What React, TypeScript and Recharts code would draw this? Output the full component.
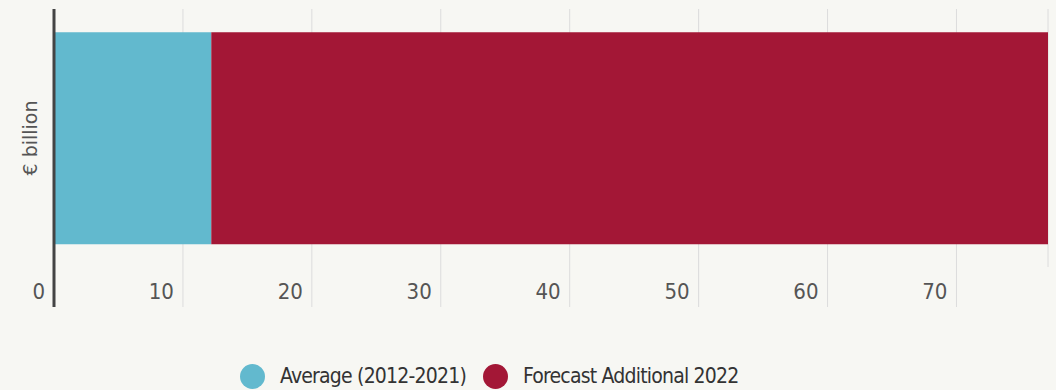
import React from "react"
import { Bar, BarChart, CartesianGrid, XAxis, YAxis } from "recharts"

// one stacked row, € billion
const categories = ["Gas"]
const seriesNames = ["Average (2012-2021)", "Forecast Additional 2022"]
const averageValues = [12.2]
const forecastValues = [64.9]
const xTicks = [0, 10, 20, 30, 40, 50, 60, 70]
const colors = ["#62b9ce", "#a31736"]

const BG = "#f7f7f3"
const CHART_W = 1056
const CHART_H = 320
const MARGIN_TOP = 9
const AXIS_H = 53
const PLOT_H = CHART_H - MARGIN_TOP - AXIS_H

const data = categories.map((name, i) => ({
  name,
  average: averageValues[i],
  forecast: forecastValues[i],
}))

const narrow = "'DejaVu Sans Condensed', 'Liberation Sans Narrow', sans-serif"

function XTick(props: any) {
  const { x, y, payload } = props
  const isZero = payload.value === 0
  return (
    <g>
      {isZero ? (
        <line x1={x} x2={x} y1={y - PLOT_H} y2={y + 40} stroke="#444" strokeWidth={3} />
      ) : (
        <line x1={x} x2={x} y1={y} y2={y + 40} stroke="#dcdcdc" strokeWidth={1} />
      )}
      <text x={x - 9} y={y + 32} textAnchor="end" fill="#555" fontSize={22} fontFamily={narrow}>
        {payload.value}
      </text>
    </g>
  )
}

function YLabel(props: any) {
  const { viewBox } = props
  const cx = 30
  const cy = viewBox.y + viewBox.height / 2
  return (
    <text
      x={cx}
      y={cy}
      textAnchor="middle"
      dominantBaseline="central"
      transform={`rotate(-90, ${cx}, ${cy})`}
      fill="#555"
      fontSize={19}
      fontFamily="'DejaVu Sans', sans-serif"
    >
      € billion
    </text>
  )
}

export default function App() {
  return (
    <div style={{ position: "absolute", left: 0, top: 0, width: 1056, height: 390, background: BG }}>
      <BarChart
        width={CHART_W}
        height={CHART_H}
        data={data}
        layout="vertical"
        margin={{ top: MARGIN_TOP, right: 8, left: 0, bottom: 0 }}
        barCategoryGap="9%"
      >
        <CartesianGrid horizontal={false} stroke="#dcdcdc" />
        <XAxis
          type="number"
          domain={[0, "dataMax"]}
          ticks={xTicks}
          axisLine={false}
          tickLine={false}
          tickSize={0}
          tickMargin={0}
          height={AXIS_H}
          tick={<XTick />}
          interval={0}
        />
        <YAxis
          type="category"
          dataKey="name"
          width={54}
          tick={false}
          axisLine={false}
          tickLine={false}
          label={<YLabel />}
        />
        <Bar dataKey="average" stackId="a" fill={colors[0]} name={seriesNames[0]} isAnimationActive={false} />
        <Bar dataKey="forecast" stackId="a" fill={colors[1]} name={seriesNames[1]} isAnimationActive={false} />
      </BarChart>
      <div
        style={{
          position: "absolute",
          left: 240,
          top: 363,
          display: "flex",
          alignItems: "center",
          fontFamily: narrow,
          fontSize: 21,
          letterSpacing: -0.8,
          color: "#333",
        }}
      >
        {seriesNames.map((n, i) => (
          <div key={n} style={{ display: "flex", alignItems: "center", marginRight: 17 }}>
            <span
              style={{
                width: 25,
                height: 25,
                borderRadius: "50%",
                background: colors[i],
                display: "inline-block",
                marginRight: 15,
              }}
            />
            <span style={{ lineHeight: "26px" }}>{n}</span>
          </div>
        ))}
      </div>
    </div>
  )
}
